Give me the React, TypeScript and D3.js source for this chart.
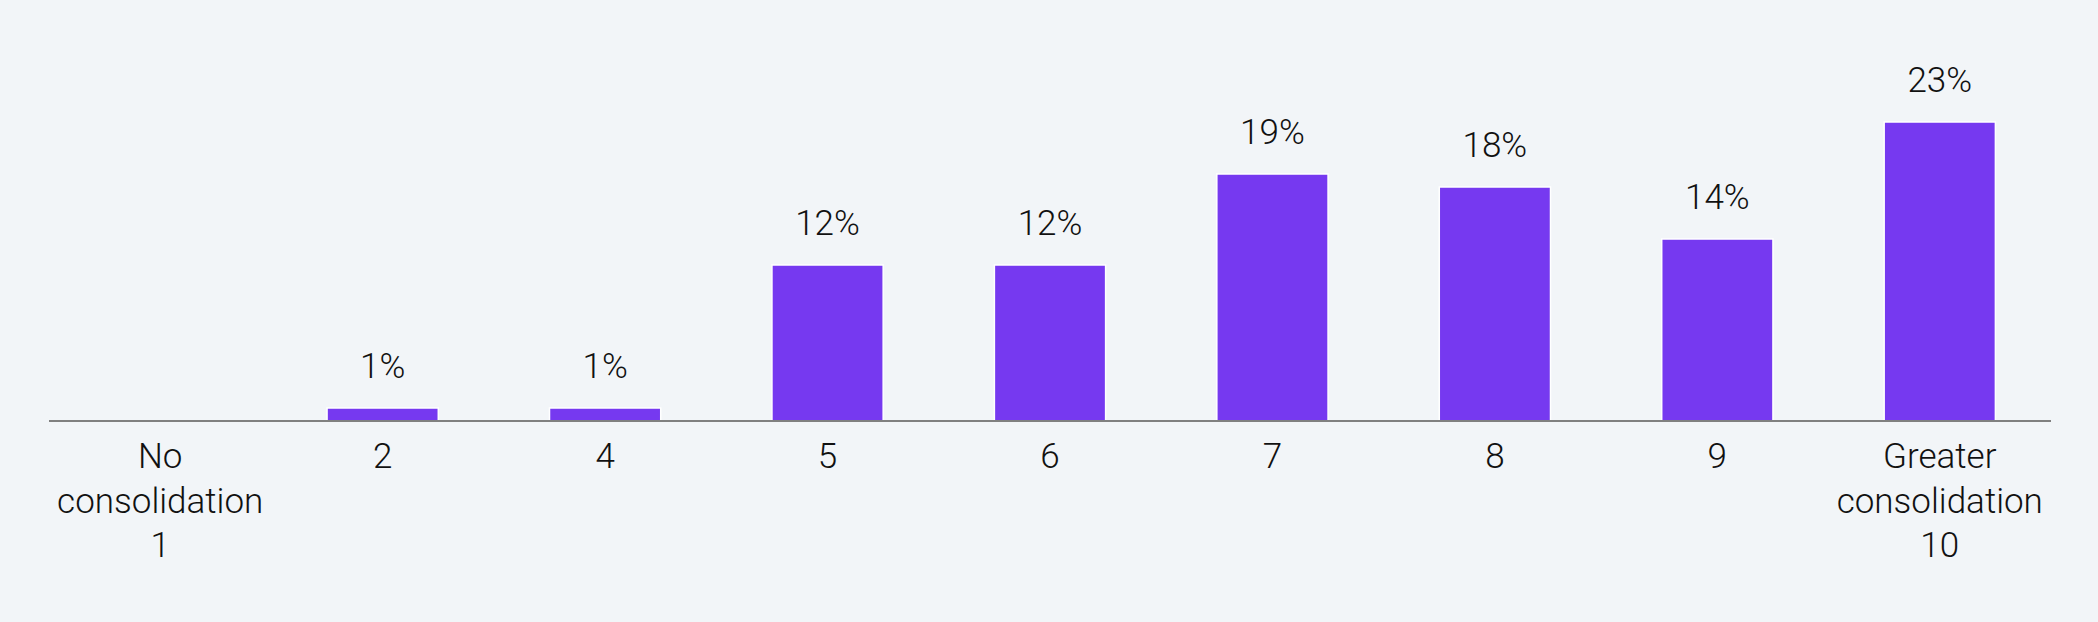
import React, { useEffect } from "react";
import * as d3 from "d3";

const categories: string[] = ["1", "2", "4", "5", "6", "7", "8", "9", "10"];
const tickLabels: string[][] = [
  ["No", "consolidation", "1"],
  ["2"],
  ["4"],
  ["5"],
  ["6"],
  ["7"],
  ["8"],
  ["9"],
  ["Greater", "consolidation", "10"],
];
const values: (number | null)[] = [null, 1, 1, 12, 12, 19, 18, 14, 23];

const W = 2098;
const H = 622;
const FONT = "Roboto, 'Liberation Sans', Arial, sans-serif";
const FS = 35;
const FW = 300;

export default function App() {
  useEffect(() => {
    document.body.style.margin = "0";
    document.body.style.background = "#F2F5F8";
  }, []);

  const x = d3
    .scaleBand<string>()
    .domain(categories)
    .range([49, 2051])
    .paddingInner(0.5)
    .paddingOuter(0.25);
  const y = d3.scaleLinear().domain([0, 23]).range([421, 122]);

  return (
    <svg width={W} height={H} style={{ display: "block", background: "#F2F5F8" }}>
      <rect x={0} y={0} width={W} height={H} fill="#F2F5F8" />
      {categories.map((c, i) => {
        const v = values[i];
        if (v == null) return null;
        const bx = x(c)!;
        return (
          <g key={c}>
            <rect
              x={bx}
              y={y(v)}
              width={x.bandwidth()}
              height={y(0) - y(v)}
              fill="#7639F0"
              stroke="#ffffff"
              strokeWidth={1.5}
            />
            <text
              x={bx + x.bandwidth() / 2}
              y={y(v) - 30}
              textAnchor="middle"
              fontFamily={FONT}
              fontSize={FS}
              fontWeight={FW}
              fill="#111111"
            >
              {v}%
            </text>
          </g>
        );
      })}
      <line x1={49} x2={2051} y1={y(0)} y2={y(0)} stroke="#808080" strokeWidth={2} />
      {categories.map((c, i) => (
        <text
          key={"t" + c}
          x={x(c)! + x.bandwidth() / 2}
          y={468}
          textAnchor="middle"
          fontFamily={FONT}
          fontSize={FS}
          fontWeight={FW}
          fill="#111111"
        >
          {tickLabels[i].map((line, j) => (
            <tspan key={j} x={x(c)! + x.bandwidth() / 2} dy={j === 0 ? 0 : 44.5}>
              {line}
            </tspan>
          ))}
        </text>
      ))}
    </svg>
  );
}
